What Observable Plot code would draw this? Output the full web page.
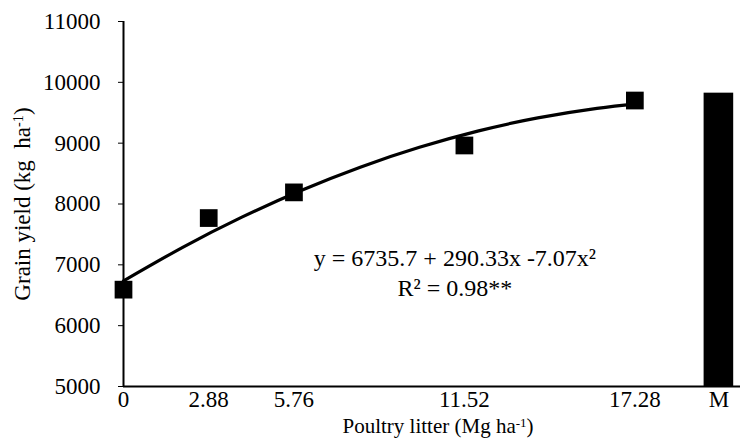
<!DOCTYPE html>
<html>
<head>
<meta charset="utf-8">
<script src="https://cdn.jsdelivr.net/npm/d3@7"></script>
<script src="https://cdn.jsdelivr.net/npm/@observablehq/plot@0.6"></script>
<style>
  html, body { margin: 0; padding: 0; background: #fff; }
  #chart { width: 740px; height: 441px; }
</style>
</head>
<body>
<div id="chart"></div>
<script>
// Observed treatment doses (Mg ha-1) and grain yield (kg ha-1)
const doses = [0, 2.88, 5.76, 11.52, 17.28];
const yields = [6592, 7769, 8191, 8962, 9701];

// Mineral fertilizer treatment (bar "M")
const mineralLabel = "M";
const mineralYield = 9822;
const mineralPos = 20.12;

// Fitted quadratic curve
const curveX = [0, 2, 4, 6, 8, 10, 12, 14, 16, 17.28];
const curveY = [6736, 7288, 7784, 8223, 8606, 8932, 9202, 9415, 9571, 9642];

// Axis ticks
const yTicks = [5000, 6000, 7000, 8000, 9000, 10000, 11000];
const xTickValues = [0, 2.88, 5.76, 11.52, 17.28, mineralPos];
const xTickLabels = ["0", "2.88", "5.76", "11.52", "17.28", mineralLabel];

const eqText = "y = 6735.7 + 290.33x -7.07x²";
const r2Text = "R² = 0.98**";
const yTitle = "Grain yield (kg  ha⁻¹)";
const xTitle = "Poultry litter (Mg ha⁻¹)";

const points = doses.map((d, i) => ({x: d, y: yields[i]}));
const curve = curveX.map((d, i) => ({x: d, y: curveY[i]}));
const bar = [{x1: mineralPos - 0.5, x2: mineralPos + 0.5, y1: 5000, y2: mineralYield}];

const FS = 23;
const chart = Plot.plot({
  width: 740,
  height: 441,
  marginLeft: 123,
  marginRight: 0,
  marginTop: 21,
  marginBottom: 55,
  style: {fontFamily: "'Liberation Serif', 'Times New Roman', serif", fontSize: FS + "px", color: "#000", background: "#fff"},
  x: {domain: [0, 20.85]},
  y: {domain: [5000, 11000]},
  marks: [
    Plot.rect(bar, {x1: "x1", x2: "x2", y1: "y1", y2: "y2", fill: "black"}),
    Plot.line(curve, {x: "x", y: "y", stroke: "black", strokeWidth: 3.2, curve: "natural"}),
    Plot.dot(points, {x: "x", y: "y", symbol: "square", r: 10, fill: "black", stroke: "none"}),
    Plot.axisY({ticks: yTicks, tickFormat: d => String(d), tickSize: 5, tickPadding: 18, label: null, fontSize: FS}),
    Plot.axisX({ticks: xTickValues, tickFormat: d => xTickLabels[xTickValues.indexOf(d)], tickSize: 0, tickPadding: 4, label: null, fontSize: FS}),
    Plot.ruleX([0], {stroke: "black", strokeWidth: 2}),
    Plot.ruleY([5000], {stroke: "black", strokeWidth: 2}),
    Plot.text([eqText], {x: 11.2, y: 7110, text: d => d, fontSize: 24, textAnchor: "middle"}),
    Plot.text([r2Text], {x: 11.2, y: 6615, text: d => d, fontSize: 24, textAnchor: "middle"}),
    Plot.text([yTitle], {frameAnchor: "left", dx: -101, rotate: -90, text: d => d, fontSize: FS, textAnchor: "middle"}),
    Plot.text([xTitle], {frameAnchor: "bottom", dy: 46, dx: 6, text: d => d, fontSize: 21, textAnchor: "middle"})
  ]
});

// Render "⁻¹" as a true superscript, as in the reference
d3.select(chart).selectAll("text").each(function() {
  const t = d3.select(this);
  const s = t.text();
  if (s.includes("⁻¹")) {
    const [a, b] = s.split("⁻¹");
    t.text(null);
    t.append("tspan").text(a);
    t.append("tspan").attr("dy", "-0.45em").attr("font-size", "0.62em").text("-1");
    t.append("tspan").attr("dy", "0.28em").text(b);
  }
});
document.getElementById("chart").appendChild(chart);
</script>
</body>
</html>
